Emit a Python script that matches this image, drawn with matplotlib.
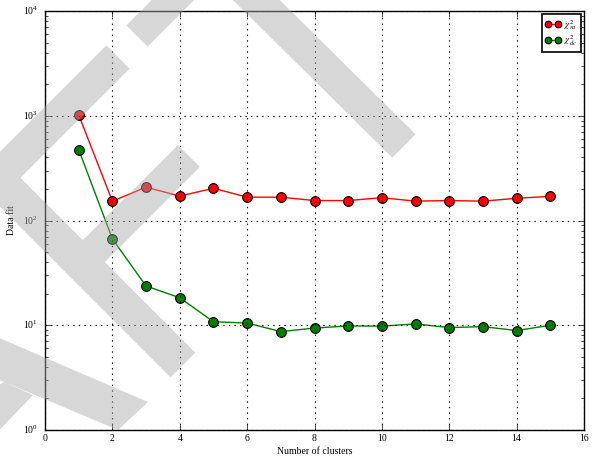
import numpy as np
import matplotlib
matplotlib.use("Agg")
import matplotlib.pyplot as plt
from matplotlib.path import Path
from matplotlib.patches import PathPatch
from matplotlib.ticker import LogLocator

# data
clusters = [1, 2, 3, 4, 5, 6, 7, 8, 9, 10, 11, 12, 13, 14, 15]
chi2_ra = [1020, 153, 208, 171, 203, 167, 167, 155, 155, 165, 153, 155, 153, 163, 170]
chi2_dc = [475, 66.7, 23.7, 18.3, 10.8, 10.5, 8.7, 9.4, 9.85, 9.8, 10.3, 9.5, 9.7, 8.9, 10.0]
labels = [r"$\chi^2_{ra}$", r"$\chi^2_{dc}$"]

W, H = 592, 458


def band(p0, p1, w):
	# rectangle around the segment p0-p1, in pixels (y down)
	p0 = np.array(p0, float)
	p1 = np.array(p1, float)
	d = (p1 - p0) / np.hypot(*(p1 - p0))
	n = np.array([-d[1], d[0]]) * w / 2
	return [p0 + n, p1 + n, p1 - n, p0 - n]


def fix_orient(poly):
	poly = [np.array(p, float) for p in poly]
	area = 0
	for i in range(len(poly)):
		x1, y1 = poly[i]
		x2, y2 = poly[(i + 1) % len(poly)]
		area += x1 * y2 - x2 * y1
	if area < 0:
		poly = poly[::-1]
	return poly


def watermark(fig):
	polys = [
		band((137, 36), (210, -37), 30),
		band((230, -26), (404, 146), 33),
		band((118, 57), (-15, 190), 33),
		band((-15, 167), (183, 365), 35),
		band((189, 156), (75, 270), 31),
		[(-10, 334), (148, 402), (118, 430), (-10, 376)],
		[(4, 382), (33, 395), (-15, 445), (-15, 393)],
	]
	verts = []
	codes = []
	for poly in polys:
		poly = fix_orient(poly)
		for i, (x, y) in enumerate(poly):
			verts.append((x / W, 1 - y / H))
			codes.append(Path.MOVETO if i == 0 else Path.LINETO)
		verts.append((0, 0))
		codes.append(Path.CLOSEPOLY)
	patch = PathPatch(Path(verts, codes), transform=fig.transFigure,
					  facecolor=(0.66, 0.66, 0.66), edgecolor="none", alpha=0.45, zorder=20)
	fig.add_artist(patch)


def main():
	plt.style.use("classic")
	plt.rcParams["font.family"] = "serif"
	plt.rcParams["font.serif"] = ["Liberation Serif", "DejaVu Serif"]
	plt.rcParams["mathtext.fontset"] = "stix"
	plt.rcParams["font.size"] = 7

	fig = plt.figure(figsize=(5.92, 4.58), dpi=100)
	fig.patch.set_facecolor("white")
	ax = fig.add_axes([45 / W, 1 - 430 / H, (584 - 45) / W, (430 - 11) / H])

	ax.plot(clusters, chi2_ra, "o-", color="red", markerfacecolor="red", markeredgecolor="black",
			markersize=7, markeredgewidth=0.8, linewidth=1, label=labels[0])
	ax.plot(clusters, chi2_dc, "o-", color="green", markerfacecolor="green", markeredgecolor="black",
			markersize=7, markeredgewidth=0.8, linewidth=1, label=labels[1])

	ax.set_yscale("log")
	ax.set_ylim(1, 1e4)
	ax.set_xlim(0, 16)
	ax.set_xticks(range(0, 17, 2))
	ax.yaxis.set_minor_locator(LogLocator(base=10, subs=np.arange(2, 10)))
	ax.grid(True, which="major", linestyle=":", color="black", linewidth=0.8)
	ax.tick_params(which="major", direction="in", length=4, top=True, right=True)
	ax.tick_params(which="minor", direction="in", length=2, left=True, right=True)
	ax.tick_params(axis="x", labelsize=7, pad=3)
	ax.tick_params(axis="y", labelsize=7, pad=5)
	ax.set_xlabel("Number of clusters", fontsize=7, labelpad=3)
	ax.set_ylabel("Data fit", fontsize=7)

	leg = ax.legend(loc="upper right", numpoints=2, fontsize=6.5, fancybox=False, markerscale=0.68,
					handlelength=1.7, borderpad=0.4, labelspacing=0.25, handletextpad=0.4,
					borderaxespad=0.35)
	leg.get_frame().set_edgecolor("black")
	leg.get_frame().set_linewidth(1.2)

	watermark(fig)

	fig.savefig("out.png", dpi=100, facecolor="white")


if __name__ == "__main__":
	main()
